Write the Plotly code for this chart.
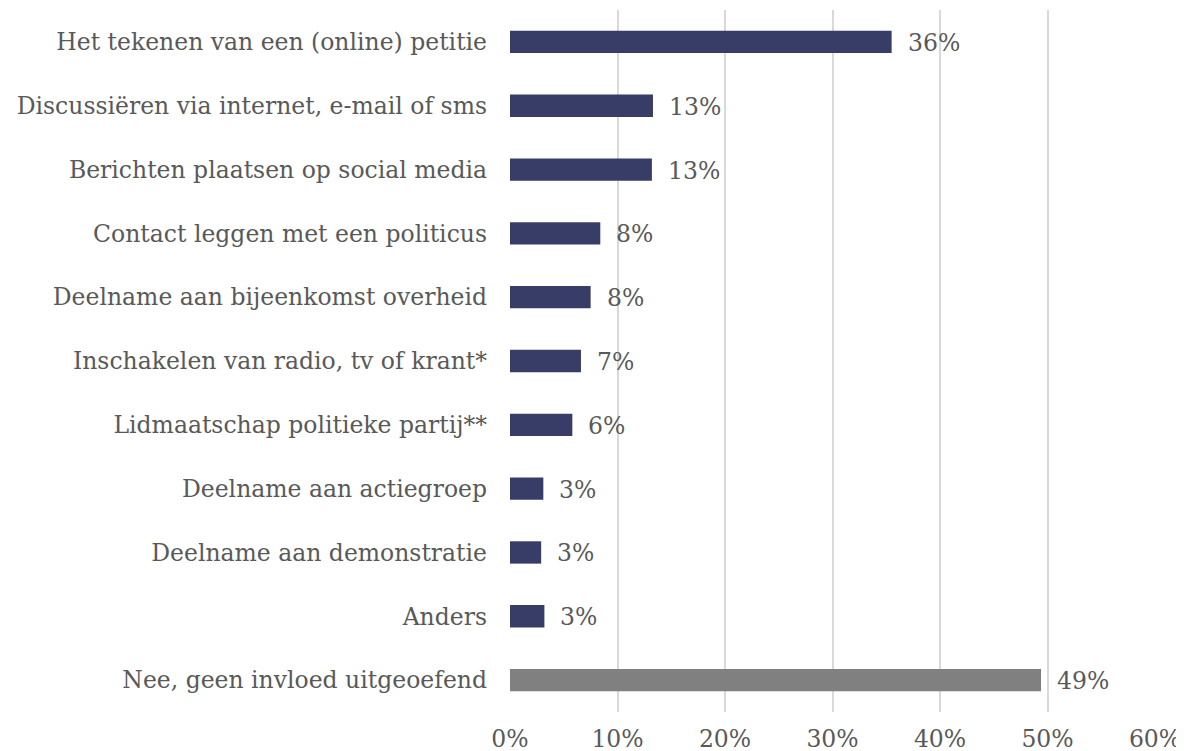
import plotly.graph_objects as go

categories = [
    "Het tekenen van een (online) petitie",
    "Discussiëren via internet, e-mail of sms",
    "Berichten plaatsen op social media",
    "Contact leggen met een politicus",
    "Deelname aan bijeenkomst overheid",
    "Inschakelen van radio, tv of krant*",
    "Lidmaatschap politieke partij**",
    "Deelname aan actiegroep",
    "Deelname aan demonstratie",
    "Anders",
    "Nee, geen invloed uitgeoefend",
]
values = [0.355, 0.133, 0.132, 0.084, 0.075, 0.066, 0.058, 0.031, 0.029, 0.032, 0.494]
labels = ["36%", "13%", "13%", "8%", "8%", "7%", "6%", "3%", "3%", "3%", "49%"]
tick_vals = [0, 0.1, 0.2, 0.3, 0.4, 0.5, 0.6]
tick_text = ["0%", "10%", "20%", "30%", "40%", "50%", "60%"]

NAVY = "#383d68"
GREY = "#808080"
TEXT = "#595959"
FONT = "DejaVu Serif"

colors = [GREY if c.startswith("Nee") else NAVY for c in categories]

fig = go.Figure()
fig.add_trace(go.Bar(
    x=values, y=categories, orientation="h",
    marker=dict(color=colors, line=dict(width=0)),
    hoverinfo="skip",
))

for v, c, t in zip(values, categories, labels):
    fig.add_annotation(x=v, y=c, text=t, showarrow=False, xanchor="left",
                       xshift=14, yshift=-1, font=dict(family=FONT, size=23.5, color=TEXT))

fig.update_layout(
    width=1184, height=751,
    margin=dict(l=502, r=37, t=2, b=47),
    paper_bgcolor="white", plot_bgcolor="white",
    bargap=0.65,
    showlegend=False,
    font=dict(family=FONT, size=23.5, color=TEXT),
)
fig.update_xaxes(
    range=[0, 0.6], tickvals=tick_vals, ticktext=tick_text,
    showgrid=True, gridcolor="#d9d9d9", gridwidth=2,
    zeroline=False, showline=False, ticks="",
    tickfont=dict(family=FONT, size=23.5, color=TEXT),
    ticklabelstandoff=10,
    automargin=False,
    fixedrange=True,
)
fig.update_yaxes(
    autorange="reversed", showgrid=False, ticks="", showline=False,
    ticklabelstandoff=22,
    tickfont=dict(family=FONT, size=23.5, color=TEXT),
    automargin=False,
    fixedrange=True,
)

fig.write_html("out.html")
